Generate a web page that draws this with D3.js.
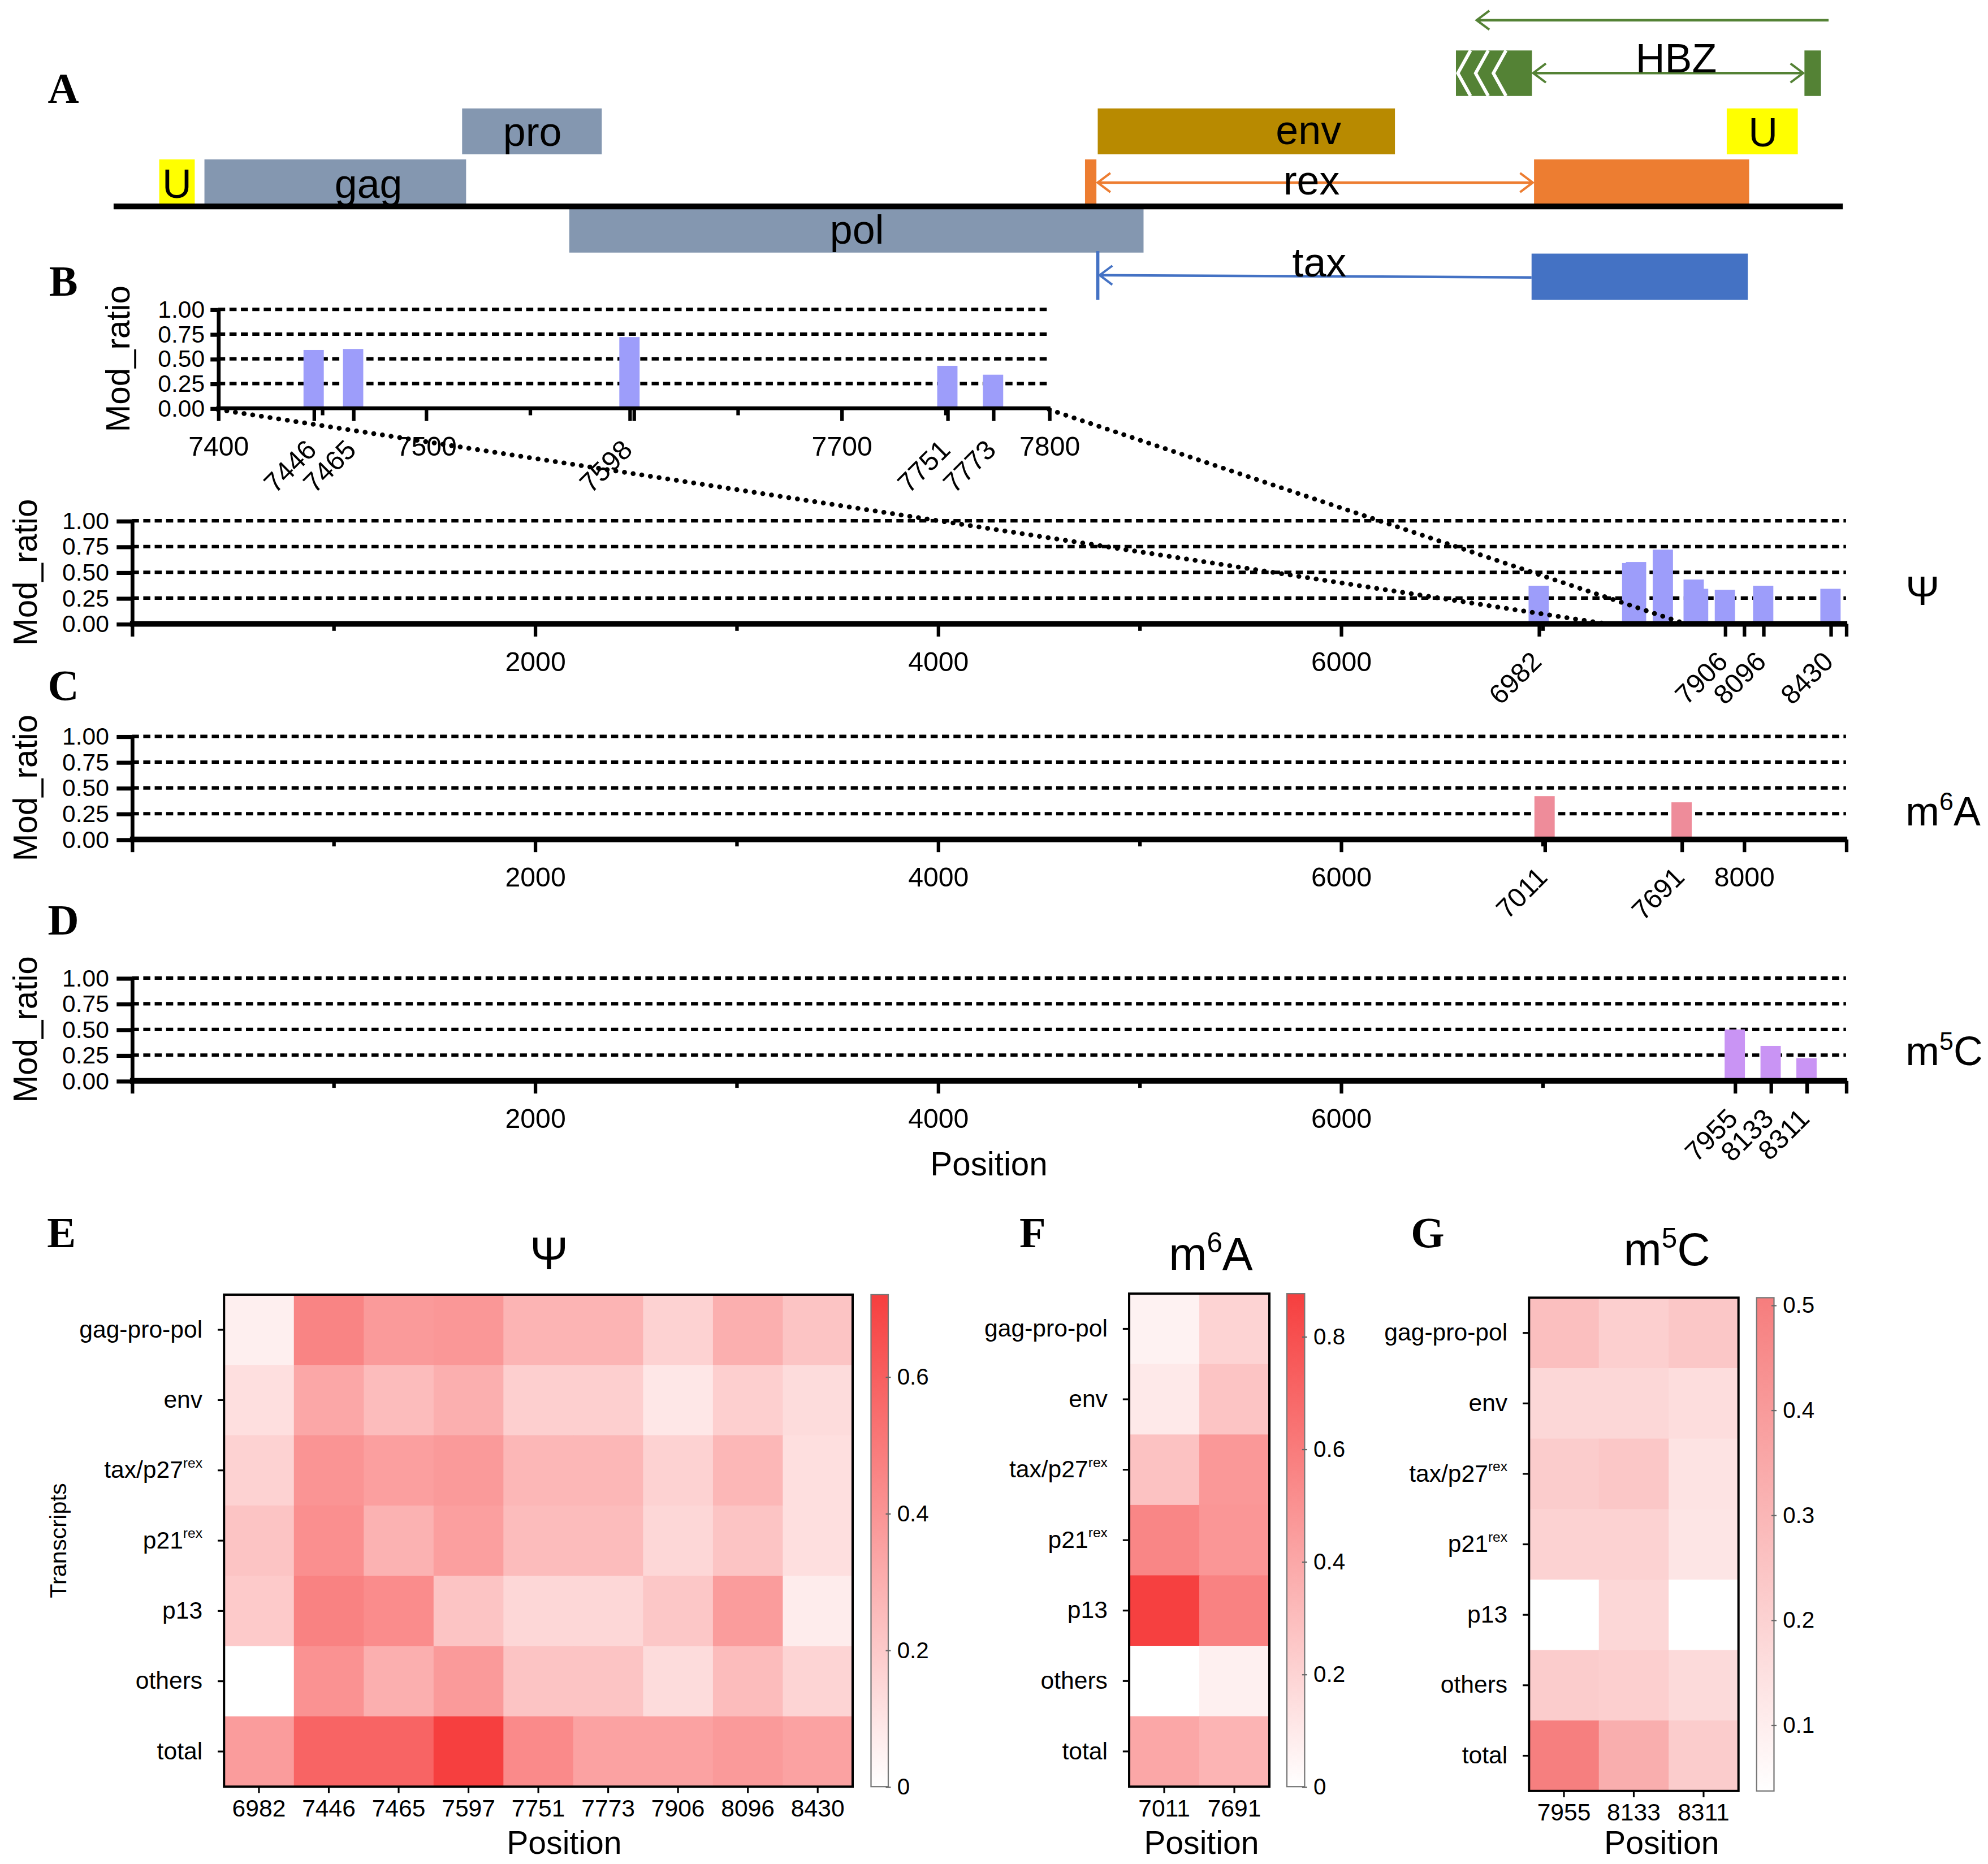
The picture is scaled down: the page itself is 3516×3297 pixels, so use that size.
<!DOCTYPE html>
<html lang="en">
<head>
<meta charset="UTF-8">
<script src="https://cdn.jsdelivr.net/npm/d3@7"></script>
<title>HTLV-1 RNA modification sites</title>
<style>
  html, body { margin: 0; padding: 0; background: #fff; }
  svg { display: block; }
</style>
</head>
<body>
<svg id="fig" width="3516" height="3297" viewBox="0 0 1568 1470" preserveAspectRatio="none"></svg>
<script>
// ---------- data ----------
// genome map (A), positions in nt
const genomeMapEnd = 9100;
const mapIds    = ["U5", "gag", "pro", "pol", "env", "rex-e1", "rex-e2", "tax-e2", "HBZ-e2", "HBZ-e1", "U3"];
const mapStart  = [240, 478, 1834, 2398, 5179, 5112, 7475, 7462, 7064, 8898, 8489];
const mapEnd    = [427, 1855, 2569, 5420, 6743, 5172, 8607, 8600, 7464, 8985, 8863];
const mapText   = ["U", "gag", "pro", "pol", "env", "rex", "tax", "HBZ", "U"];
const mapTextAt = [333, 1341, 2204, 3912, 6288, 6304, 6345, 8223, 8680];
const taxExon1 = 5179;
const hbzTranscript = [9025, 7173];

// modification ratios (B-D)
const genomeEnd = 8507;
const ratioTicks = [0, 0.25, 0.5, 0.75, 1];
const psiSites = [6982, 7446, 7465, 7598, 7751, 7773, 7906, 8096, 8430];
const psiRatio = [0.37, 0.59, 0.60, 0.72, 0.43, 0.34, 0.33, 0.37, 0.34];
const m6aSites = [7011, 7691];
const m6aRatio = [0.42, 0.36];
const m5cSites = [7955, 8133, 8311];
const m5cRatio = [0.50, 0.34, 0.22];

const insetRange = [7400, 7800];
const insetLabelTicks = [7400, 7500, 7700, 7800];
const insetMinorTicks = [7450, 7550, 7650, 7750];
const insetPlainTicks = [7600];
const insetSiteTicks = [7446, 7465, 7598, 7751, 7773];
const zoomLanding = [7320, 7710];

const posLabelTicks = [2000, 4000, 6000];
const posMinorTicks = [1000, 3000, 5000, 7000];
const psiSiteTicks = [6982, 7906, 8096, 8430];
const psiPlainTicks = [0, 8000, 8507];
const m6aLabelTicks = [2000, 4000, 6000, 8000];
const m6aSiteTicks = [7011, 7691];
const m5cSiteTicks = [7955, 8133, 8311];
const endTicks = [0, 8507];

// heatmaps (E-G)
const transcripts = ["gag-pro-pol", "env", "tax/p27", "p21", "p13", "others", "total"];
const transcriptSup = ["", "", "rex", "rex", "", "", ""];
const psiCols = ["6982", "7446", "7465", "7597", "7751", "7773", "7906", "8096", "8430"];
const psiHeat = [
  [0.06, 0.46, 0.38, 0.39, 0.28, 0.28, 0.17, 0.30, 0.22],
  [0.12, 0.33, 0.25, 0.30, 0.18, 0.18, 0.09, 0.18, 0.13],
  [0.17, 0.40, 0.36, 0.38, 0.27, 0.27, 0.17, 0.27, 0.12],
  [0.22, 0.42, 0.29, 0.36, 0.25, 0.25, 0.15, 0.22, 0.12],
  [0.20, 0.47, 0.43, 0.22, 0.15, 0.15, 0.21, 0.37, 0.07],
  [null, 0.41, 0.30, 0.38, 0.22, 0.22, 0.13, 0.25, 0.16],
  [0.37, 0.58, 0.58, 0.72, 0.44, 0.35, 0.35, 0.38, 0.35]
];
const psiScaleTicks = [0, 0.2, 0.4, 0.6];
const m6aCols = ["7011", "7691"];
const m6aHeat = [
  [0.06, 0.20], [0.10, 0.27], [0.28, 0.47], [0.55, 0.48],
  [0.87, 0.57], [null, 0.07], [0.40, 0.34]
];
const m6aScaleTicks = [0, 0.2, 0.4, 0.6, 0.8];
const m5cCols = ["7955", "8133", "8311"];
const m5cHeat = [
  [0.27, 0.21, 0.24], [0.18, 0.18, 0.16], [0.22, 0.24, 0.14], [0.20, 0.20, 0.13],
  [null, 0.18, null], [0.22, 0.21, 0.17], [0.50, 0.33, 0.22]
];
const m5cScaleTicks = [0.1, 0.2, 0.3, 0.4, 0.5];

// ---------- drawing ----------
const FONT = "'Liberation Sans', Arial, sans-serif";
const svg = d3.select("#fig").attr("font-family", FONT);
svg.append("rect").attr("width", 1568).attr("height", 1470).attr("fill", "#fff");
const defs = svg.append("defs");

// panel letters
const letters = [["A", 50, 81], ["B", 50, 233], ["C", 50, 552], ["D", 50, 737],
                 ["E", 48.5, 983.5], ["F", 814.5, 983.5], ["G", 1126, 983.5]];
svg.selectAll("text.letter").data(letters).join("text").attr("class", "letter")
  .attr("x", d => d[1]).attr("y", d => d[2]).attr("text-anchor", "middle")
  .attr("font-family", "'Liberation Serif', 'Times New Roman', serif")
  .attr("font-weight", "bold").attr("font-size", 34).text(d => d[0]);

// ---- A: genome map ----
const mx = d3.scaleLinear().domain([0, genomeMapEnd]).range([89.6, 1453.5]);
const trackY = { hbz: [39.8, 75.7], top: [85.5, 121.7], mid: [125.7, 162], low: [163, 199.2], tax: [200, 236.5] };
const featStyle = {
  "U5": ["mid", "#ffff00"], "gag": ["mid", "#8497b0"], "pro": ["top", "#8497b0"], "pol": ["low", "#8497b0"],
  "env": ["top", "#b88a00"], "rex-e1": ["mid", "#ed7d31"], "rex-e2": ["mid", "#ed7d31"],
  "tax-e2": ["tax", "#4472c4"], "HBZ-e2": ["hbz", "#548235"], "HBZ-e1": ["hbz", "#548235"], "U3": ["top", "#ffff00"]
};
const mapG = svg.append("g");
function chevron(id, color) {
  defs.append("marker").attr("id", id).attr("viewBox", "-12 -9 14 18")
    .attr("markerWidth", 14).attr("markerHeight", 18).attr("markerUnits", "userSpaceOnUse")
    .attr("refX", 0).attr("refY", 0).attr("orient", "auto-start-reverse")
    .append("path").attr("d", "M-10,-7.5L0,0L-10,7.5").attr("fill", "none")
    .attr("stroke", color).attr("stroke-width", 1.8);
}
chevron("arOrange", "#ed7d31");
chevron("arBlue", "#4472c4");
chevron("arGreen", "#548235");

const trk = i => trackY[featStyle[mapIds[i]][0]];
mapG.selectAll("rect").data(d3.range(mapIds.length)).join("rect")
  .attr("x", i => mx(mapStart[i])).attr("width", i => mx(mapEnd[i]) - mx(mapStart[i]))
  .attr("y", i => trk(i)[0]).attr("height", i => trk(i)[1] - trk(i)[0])
  .attr("fill", i => featStyle[mapIds[i]][1]);

// chevrons in HBZ 3' box
const hb = mapIds.indexOf("HBZ-e2");
[1.5, 15.5, 29.5].forEach(off => {
  const ax = mx(mapStart[hb]) + off;
  mapG.append("path")
    .attr("d", `M${ax + 10},${trackY.hbz[0]}L${ax},${(trackY.hbz[0] + trackY.hbz[1]) / 2}L${ax + 10},${trackY.hbz[1]}`)
    .attr("fill", "none").attr("stroke", "#fff").attr("stroke-width", 2.6);
});

mapG.append("line").attr("x1", mx(0)).attr("x2", mx(genomeMapEnd)).attr("y1", 162.8).attr("y2", 162.8)
  .attr("stroke", "#000").attr("stroke-width", 4.5);

const rexA = mapIds.indexOf("rex-e1"), rexB = mapIds.indexOf("rex-e2");
mapG.append("line").attr("x1", mx(mapEnd[rexA]) + 1).attr("x2", mx(mapStart[rexB]) - 1)
  .attr("y1", 144).attr("y2", 144).attr("stroke", "#ed7d31").attr("stroke-width", 2)
  .attr("marker-start", "url(#arOrange)").attr("marker-end", "url(#arOrange)");
const taxB = mapIds.indexOf("tax-e2");
mapG.append("line").attr("x1", mx(taxExon1)).attr("x2", mx(taxExon1)).attr("y1", 198).attr("y2", 236.5)
  .attr("stroke", "#4472c4").attr("stroke-width", 2.6);
mapG.append("line").attr("x1", mx(mapStart[taxB])).attr("x2", mx(taxExon1) + 1.5)
  .attr("y1", 218.8).attr("y2", 217).attr("stroke", "#4472c4").attr("stroke-width", 2)
  .attr("marker-end", "url(#arBlue)");
const hbA = mapIds.indexOf("HBZ-e1");
mapG.append("line").attr("x1", mx(mapEnd[hb]) + 1).attr("x2", mx(mapStart[hbA]) - 1)
  .attr("y1", 57.6).attr("y2", 57.6).attr("stroke", "#548235").attr("stroke-width", 2)
  .attr("marker-start", "url(#arGreen)").attr("marker-end", "url(#arGreen)");
mapG.append("line").attr("x1", mx(hbzTranscript[0])).attr("x2", mx(hbzTranscript[1]))
  .attr("y1", 15.9).attr("y2", 15.9).attr("stroke", "#548235").attr("stroke-width", 2)
  .attr("marker-end", "url(#arGreen)");

const textBase = [156, 156, 115, 192, 113.5, 153.5, 218, 57, 115.5];
mapG.selectAll("text").data(d3.range(mapText.length)).join("text")
  .attr("x", i => mx(mapTextAt[i])).attr("y", i => textBase[i])
  .attr("text-anchor", "middle").attr("font-size", 32).text(i => mapText[i]);

// ---- B-D: modification ratio panels ----
function modPanel(o) {
  const g = svg.append("g");
  const x = d3.scaleLinear().domain(o.domain).range(o.xr);
  const y = d3.scaleLinear().domain([0, 1]).range(o.yr);
  const y0 = y(0);
  g.append("g").selectAll("line").data(ratioTicks.slice(1)).join("line")
    .attr("x1", o.xr[0]).attr("x2", o.xr[1])
    .attr("y1", d => y(d)).attr("y2", d => y(d))
    .attr("stroke", "#000").attr("stroke-width", 2.7).attr("stroke-dasharray", "5.6 3.4");
  g.append("g").selectAll("rect").data(d3.zip(o.sites, o.values)).join("rect")
    .attr("x", d => x(d[0]) - 8).attr("width", 16)
    .attr("y", d => y(d[1])).attr("height", d => y0 - y(d[1]))
    .attr("fill", o.color);
  const addTicks = (vals, size, fmt, pad) => {
    const a = g.append("g").attr("transform", `translate(0,${y0})`)
      .call(d3.axisBottom(x).tickValues(vals).tickSize(size).tickPadding(pad).tickFormat(fmt));
    a.select(".domain").remove();
    a.attr("font-size", 21.5).attr("font-family", FONT);
    a.selectAll(".tick line").attr("stroke-width", 2.8);
    return a;
  };
  addTicks(o.minor, 5.5, () => "", 0);
  addTicks(o.plain, 10, () => "", 0);
  addTicks(o.labeled, 10, d3.format("d"), 12);
  const s = addTicks(o.siteTicks, 10, d3.format("d"), 0);
  s.selectAll("text").attr("y", null).attr("dy", null).attr("text-anchor", "end")
    .attr("transform", `translate(3,${o.siteDy}) rotate(-45)`);
  g.append("line").attr("x1", o.xr[0] - 1.5).attr("x2", o.xr[1] + 1).attr("y1", y0).attr("y2", y0)
    .attr("stroke", "#000").attr("stroke-width", o.axisW);
  const ya = g.append("g").attr("transform", `translate(${o.xr[0]},0)`)
    .call(d3.axisLeft(y).tickValues(ratioTicks).tickFormat(d3.format(".2f"))
      .tickSize(o.yTick).tickPadding(o.yPad).tickSizeOuter(0));
  ya.attr("font-size", 19).attr("font-family", FONT);
  ya.select(".domain").attr("stroke-width", 3);
  ya.selectAll(".tick line").attr("stroke-width", 3.2);
  g.append("text").attr("transform", `translate(${o.labelX},${(o.yr[0] + o.yr[1]) / 2}) rotate(-90)`)
    .attr("text-anchor", "middle").attr("font-size", 26).text("Mod_ratio");
  if (o.tag) {
    const t = g.append("text").attr("x", 1503).attr("y", o.tagY).attr("font-size", 32);
    t.append("tspan").text(o.tag[0]);
    if (o.tag.length > 1) {
      t.append("tspan").attr("font-size", 20).attr("dy", -12).text(o.tag[1]);
      t.append("tspan").attr("dy", 12).text(o.tag[2]);
    }
  }
  return { x, y };
}

const insetIdx = d3.range(psiSites.length).filter(i => psiSites[i] >= insetRange[0] && psiSites[i] <= insetRange[1]);
const inset = modPanel({
  domain: insetRange, xr: [172, 827.5], yr: [322, 244], axisW: 3,
  sites: insetIdx.map(i => psiSites[i]), values: insetIdx.map(i => psiRatio[i]), color: "#9d9dfa",
  labeled: insetLabelTicks, minor: insetMinorTicks, plain: insetPlainTicks, siteTicks: insetSiteTicks,
  siteDy: 34, yTick: 6, yPad: 4.5, labelX: 102
});

function mainPanel(yr, sites, values, color, labeled, siteTicks, plain, tag, tagY) {
  return modPanel({
    domain: [0, genomeEnd], xr: [104, 1456], yr, axisW: 4.5, sites, values, color,
    labeled, minor: posMinorTicks, plain, siteTicks, siteDy: 31, yTick: 12, yPad: 6, labelX: 29, tag, tagY
  });
}
const psiP = mainPanel([492, 410.7], psiSites, psiRatio, "#9d9dfa", posLabelTicks, psiSiteTicks, psiPlainTicks, ["Ψ"], 477);
mainPanel([662, 580.7], m6aSites, m6aRatio, "#ee8c9a", m6aLabelTicks, m6aSiteTicks, endTicks, ["m", "6", "A"], 651);
mainPanel([852.4, 771.3], m5cSites, m5cRatio, "#c994f4", posLabelTicks, m5cSiteTicks, endTicks, ["m", "5", "C"], 840);
svg.append("text").attr("x", 780).attr("y", 927).attr("text-anchor", "middle").attr("font-size", 26).text("Position");

// dotted zoom connectors between inset and full-length Ψ panel
[0, 1].forEach(k => {
  svg.append("line")
    .attr("x1", inset.x(insetRange[k])).attr("y1", inset.y(0) + 1)
    .attr("x2", psiP.x(zoomLanding[k])).attr("y2", psiP.y(0))
    .attr("stroke", "#000").attr("stroke-width", 3.8).attr("stroke-linecap", "round")
    .attr("stroke-dasharray", "0.1 6.8");
});

// ---- E-G: heatmaps ----
function heatmap(o) {
  const g = svg.append("g");
  const x = d3.scaleBand().domain(o.cols).range([o.box[0], o.box[1]]);
  const y = d3.scaleBand().domain(d3.range(transcripts.length)).range([o.box[2], o.box[3]]);
  const color = d3.scaleLinear().domain(o.domain).range(["#ffffff", o.hot]).clamp(true);
  const cells = [];
  o.data.forEach((row, r) => row.forEach((v, c) => cells.push({ r, c: o.cols[c], v })));
  g.selectAll("rect.cell").data(cells).join("rect").attr("class", "cell")
    .attr("x", d => x(d.c)).attr("y", d => y(d.r))
    .attr("width", x.bandwidth() + 0.4).attr("height", y.bandwidth() + 0.4)
    .attr("fill", d => d.v == null ? "#ffffff" : color(d.v));
  g.append("rect").attr("x", o.box[0]).attr("y", o.box[2])
    .attr("width", o.box[1] - o.box[0]).attr("height", o.box[3] - o.box[2])
    .attr("fill", "none").attr("stroke", "#000").attr("stroke-width", 1.8);

  const ra = g.append("g").attr("transform", `translate(${o.box[0]},0)`)
    .call(d3.axisLeft(y).tickSize(5).tickPadding(12).tickSizeOuter(0).tickFormat(() => ""));
  ra.select(".domain").remove();
  ra.attr("font-size", 19).attr("font-family", FONT);
  ra.selectAll(".tick line").attr("stroke-width", 1.4);
  ra.selectAll(".tick text").each(function (r) {
    const t = d3.select(this);
    t.append("tspan").text(transcripts[r]);
    if (transcriptSup[r]) t.append("tspan").attr("font-size", 11).attr("dy", "-0.75em").text(transcriptSup[r]);
  });

  const ca = g.append("g").attr("transform", `translate(0,${o.box[3]})`)
    .call(d3.axisBottom(x).tickSize(5).tickPadding(5).tickSizeOuter(0));
  ca.select(".domain").remove();
  ca.attr("font-size", 19).attr("font-family", FONT);
  ca.selectAll(".tick line").attr("stroke-width", 1.4);
  g.append("text").attr("x", o.posX).attr("y", 1462).attr("text-anchor", "middle")
    .attr("font-size", 25.5).text("Position");

  const tt = g.append("text").attr("x", o.titleX).attr("y", o.titleY).attr("text-anchor", "middle").attr("font-size", 36);
  tt.append("tspan").text(o.title[0]);
  if (o.title.length > 1) {
    tt.append("tspan").attr("font-size", 22).attr("dy", -14).text(o.title[1]);
    tt.append("tspan").attr("dy", 14).text(o.title[2]);
  }

  const cy = d3.scaleLinear().domain(o.domain).range([o.box[3], o.box[2]]);
  const gid = "grad" + o.id;
  const lg = defs.append("linearGradient").attr("id", gid).attr("x1", 0).attr("y1", 1).attr("x2", 0).attr("y2", 0);
  lg.append("stop").attr("offset", 0).attr("stop-color", "#ffffff");
  lg.append("stop").attr("offset", 1).attr("stop-color", o.hot);
  g.append("rect").attr("x", o.cb[0]).attr("y", o.box[2])
    .attr("width", o.cb[1] - o.cb[0]).attr("height", o.box[3] - o.box[2])
    .attr("fill", `url(#${gid})`).attr("stroke", "#777").attr("stroke-width", 1);
  const ba = g.append("g").attr("transform", `translate(${o.cb[1]},0)`)
    .call(d3.axisRight(cy).tickValues(o.ticks).tickSize(3).tickPadding(4).tickSizeOuter(0).tickFormat(d3.format("~g")));
  ba.select(".domain").remove();
  ba.attr("font-size", 18).attr("font-family", FONT);
  ba.selectAll(".tick line").attr("x1", -2).attr("x2", 2).attr("stroke", "#666");
  if (o.ylabel) {
    g.append("text").attr("transform", `translate(52,${(o.box[2] + o.box[3]) / 2}) rotate(-90)`)
      .attr("text-anchor", "middle").attr("font-size", 18.5).text(o.ylabel);
  }
}

heatmap({
  id: "E", cols: psiCols, data: psiHeat, domain: [0, 0.72], hot: "#f63f3f", ticks: psiScaleTicks,
  box: [176.7, 672.5, 1021, 1409], cb: [687, 700.6], title: ["Ψ"], titleX: 433, titleY: 1001,
  posX: 445, ylabel: "Transcripts"
});
heatmap({
  id: "F", cols: m6aCols, data: m6aHeat, domain: [0, 0.876], hot: "#f63f3f", ticks: m6aScaleTicks,
  box: [890.6, 1001.2, 1020.2, 1409], cb: [1015, 1029], title: ["m", "6", "A"], titleX: 955, titleY: 1001.5,
  posX: 947.6
});
heatmap({
  id: "G", cols: m5cCols, data: m5cHeat, domain: [0.037, 0.507], hot: "#f67d7d", ticks: m5cScaleTicks,
  box: [1206, 1371.2, 1023.4, 1412.4], cb: [1385.5, 1399.2], title: ["m", "5", "C"], titleX: 1314.7, titleY: 998,
  posX: 1310.6
});
</script>
</body>
</html>
